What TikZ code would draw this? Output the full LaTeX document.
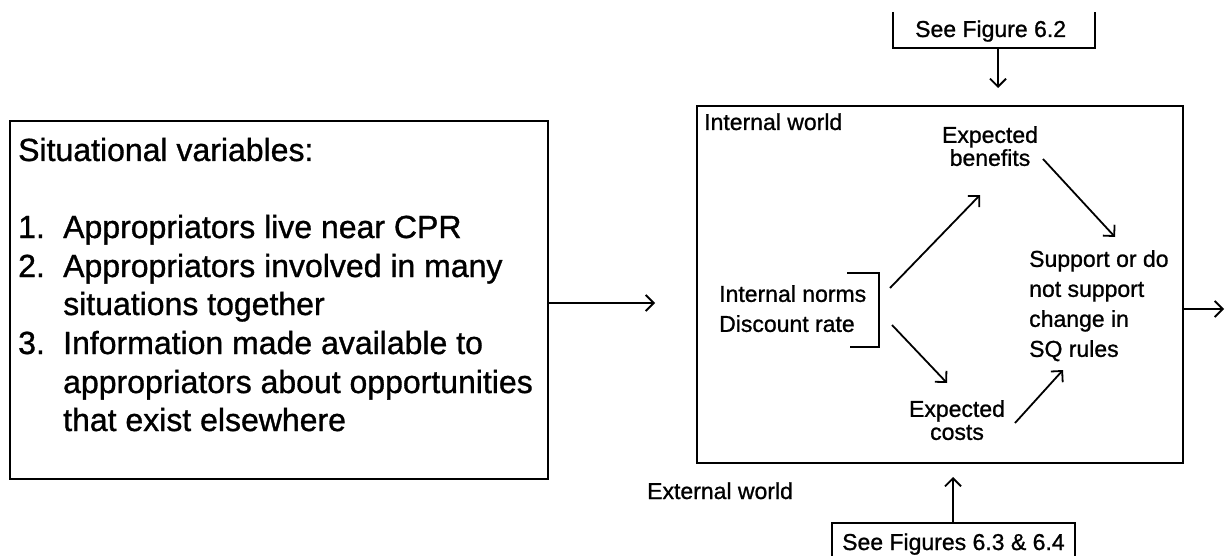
\documentclass[tikz,border=0pt]{standalone}
\usepackage{fontspec}
\setmainfont{Liberation Sans}[FakeBold=1]
\usetikzlibrary{arrows.meta,calc}
\begin{document}
\begin{tikzpicture}[x=1pt,y=-1pt,
  bigtext/.style={font=\fontsize{32}{38}\selectfont, inner sep=0pt, anchor=base west},
  smalltext/.style={font=\fontsize{23}{23}\selectfont, inner sep=0pt},
  boxshape/.style={draw, line width=2pt, inner sep=0pt, anchor=north west},
  arr/.style={line width=1.8pt, -{Straight Barb[length=8pt,width=16pt,line width=1.8pt]}},
  frame/.style={line width=2pt}]
\useasboundingbox (0,0) rectangle (1225,556);

% left box: situational variables
\node[boxshape, minimum width=538pt, minimum height=358pt] (sit) at (9,120) {};
\node[bigtext] (head) at (18,161) {Situational variables:};
\node[bigtext] (n1) at (18,238) {1.};
\node[bigtext] (i1) at (63,238) {Appropriators live near CPR};
\node[bigtext] (n2) at (18,277) {2.};
\node[bigtext] (i2a) at (63,277) {Appropriators involved in many};
\node[bigtext] (i2b) at (63,315) {situations together};
\node[bigtext] (n3) at (18,354) {3.};
\node[bigtext] (i3a) at (63,354) {Information made available to};
\node[bigtext] (i3b) at (63,393) {appropriators about opportunities};
\node[bigtext] (i3c) at (63,431) {that exist elsewhere};

% main box: internal world
\node[boxshape, minimum width=486pt, minimum height=357pt] (inner) at (696,105) {};
\node[smalltext, anchor=base west] (iw) at (704,130) {Internal world};
\node[smalltext, anchor=base west] (ew) at (647,499) {External world};

\node[smalltext, anchor=north west, align=left, font=\fontsize{23}{30}\selectfont]
  (norms) at (719,285) {Internal norms\\Discount rate};
\node[smalltext, anchor=north, align=center] (benefits) at (990,126) {Expected\\benefits};
\node[smalltext, anchor=north, align=center] (costs) at (957,400) {Expected\\costs};
\node[smalltext, anchor=north west, align=left, font=\fontsize{23}{30}\selectfont]
  (support) at (1029,250) {Support or do\\not support\\change in\\SQ rules};

% bracket grouping the two internal variables
\coordinate (brT) at (847,273);
\coordinate (brB) at (850,347);
\draw[frame] (brT) -- (879,273) -- (879,347) -- (brB);

% reference boxes above and below
\node[smalltext, anchor=base west] (fig62) at (915,37) {See Figure 6.2};
\draw[frame] (893,12) -- (893,48) -- (1095,48) -- (1095,12);
\node[smalltext, anchor=base west] (fig634) at (842,550) {See Figures 6.3 \& 6.4};
\draw[frame] (832,556) -- (832,523) -- (1075,523) -- (1075,556);

% connectors
\coordinate (inTip) at (655,303);
\draw[arr] (sit.east |- inTip) -- (inTip);
\coordinate (topStart) at (998,48);
\coordinate (topTip) at (998,88);
\draw[arr] (topStart) -- (topTip);
\coordinate (botStart) at (953,523);
\coordinate (botTip) at (953,477);
\draw[arr] (botStart) -- (botTip);
\coordinate (outTip) at (1224,309);
\draw[arr] (inner.east |- outTip) -- (outTip);

\coordinate (nbS) at (890,288);
\coordinate (nbE) at (980,195);
\draw[arr] (nbS) -- (nbE);
\coordinate (ncS) at (892,325);
\coordinate (ncE) at (947,383);
\draw[arr] (ncS) -- (ncE);
\coordinate (bsS) at (1043,159);
\coordinate (bsE) at (1115,237);
\draw[arr] (bsS) -- (bsE);
\coordinate (csS) at (1015,423);
\coordinate (csE) at (1063,370);
\draw[arr] (csS) -- (csE);
\end{tikzpicture}
\end{document}
